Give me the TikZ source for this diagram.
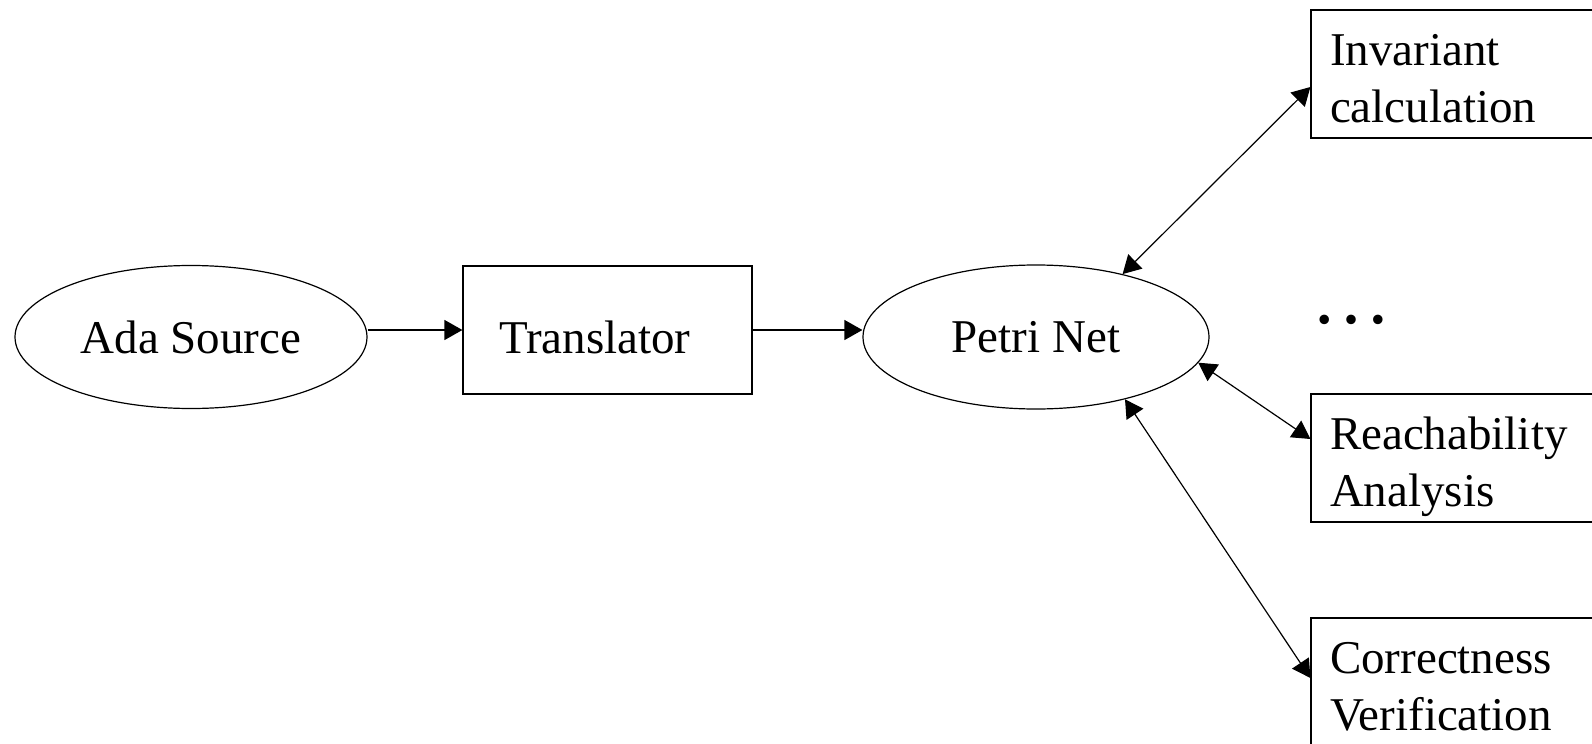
\documentclass[tikz,border=0pt]{standalone}
\usepackage{fontspec}
\setmainfont{Liberation Serif}
\usetikzlibrary{shapes.geometric,arrows.meta,calc}

\tikzset{
  blk/.style={draw,rectangle,line width=0.6pt,minimum width=144.5pt,minimum height=64pt,inner sep=0pt},
  oval/.style={draw,ellipse,line width=0.6pt,inner sep=0pt},
  tool/.style={blk,text width=125.5pt,align=left,text depth=24.5pt},
  arr/.style={line width=0.6pt,-{Triangle[length=9pt,width=10pt]}},
  darr/.style={line width=0.6pt,{Triangle[length=9pt,width=10pt]}-{Triangle[length=9pt,width=10pt]}},
}

\begin{document}
\begin{tikzpicture}[x=0.5pt,y=-0.5pt,font=\fontsize{23.5}{28.5}\selectfont]
\clip (0,0) rectangle (1592,744);
\node[oval,minimum width=176pt,minimum height=71.5pt] (ada) at (191,337) {Ada Source};
\node[blk,text width=108.5pt,align=left,text height=23pt,text depth=0pt] (trans) at (607.5,330) {Translator};
\node[oval,minimum width=173pt,minimum height=72pt] (petri) at (1036,337) {Petri Net};
\node[tool] (inv) at (1455.5,74) {Invariant\\calculation};
\node[tool] (reach) at (1455.5,458) {Reachability\\Analysis};
\node[tool] (corr) at (1455.5,682) {Correctness\\Verification};
\node[font=\fontsize{40}{46}\selectfont] (dots) at (1351,320) {…};
\draw[arr] (ada.east |- trans.west) -- (trans.west);
\draw[arr] (trans.east) -- (petri.west |- trans.east);
\draw[darr] (petri.36) -- ($(inv.west)+(0,13)$);
\draw[darr] (petri.-9) -- ($(reach.west)+(0,-19)$);
\draw[darr] (petri.-35) -- ($(corr.west)+(0,-4)$);
\end{tikzpicture}
\end{document}
